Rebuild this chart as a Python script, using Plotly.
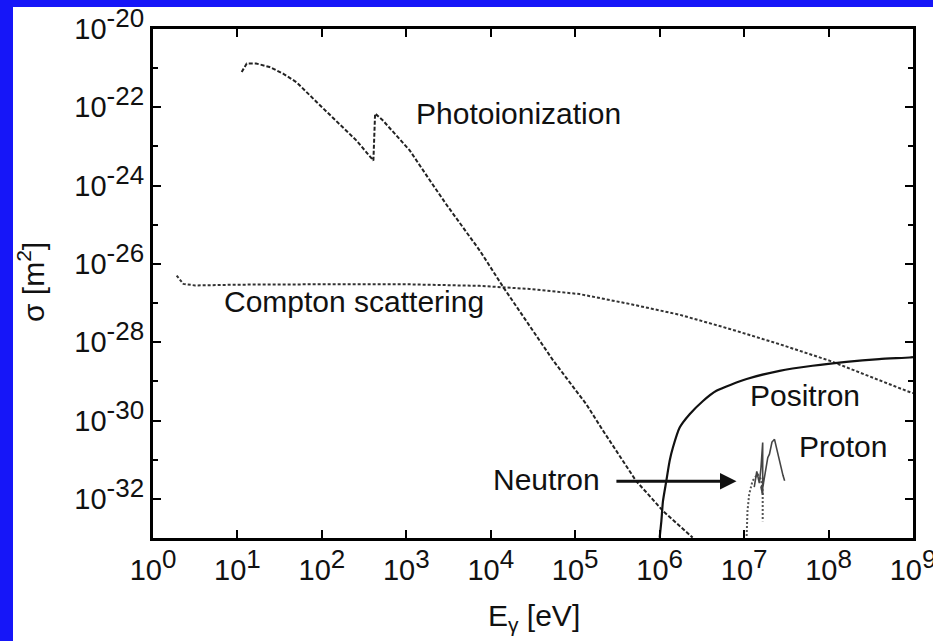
import plotly.graph_objects as go

# ---------------- data (as log10 values) ----------------
photo_logE = [1.05, 1.11, 1.22, 1.38, 1.54, 1.70, 1.94, 2.17, 2.41, 2.61, 2.63, 2.72,
              3.04, 3.28, 3.47, 3.87, 4.15, 4.74, 5.13, 5.33, 5.72, 6.04, 6.39]
photo_logS = [-21.10, -20.88, -20.88, -20.97, -21.14, -21.36, -21.87, -22.34, -22.85, -23.36,
              -22.16, -22.33, -23.10, -23.87, -24.47, -25.66, -26.60, -28.47, -29.58, -30.26,
              -31.54, -32.31, -32.99]

compton_logE = [0.28, 0.36, 0.50, 1.0, 2.0, 3.0, 3.87, 4.46, 5.05, 5.64, 6.24, 6.83,
                7.42, 8.01, 8.92, 9.0]
compton_logS = [-26.30, -26.51, -26.55, -26.53, -26.52, -26.52, -26.56, -26.64, -26.77,
                -27.02, -27.30, -27.66, -28.05, -28.47, -29.24, -29.30]

positron_logE = [6.000, 6.020, 6.039, 6.079, 6.118, 6.157, 6.237, 6.355, 6.513, 6.672,
                 7.03, 7.42, 7.81, 8.21, 8.60, 8.96, 9.0]
positron_logS = [-32.99, -32.57, -32.06, -31.54, -31.03, -30.69, -30.18, -29.84, -29.50,
                 -29.24, -28.94, -28.73, -28.60, -28.50, -28.43, -28.39, -28.38]

neutron_logE = [7.03, 7.04, 7.06, 7.10, 7.16, 7.20, 7.22, 7.22]
neutron_logS = [-32.95, -32.31, -31.88, -31.54, -31.37, -31.50, -31.80, -32.57]

proton_logE = [7.12, 7.15, 7.18, 7.20, 7.22, 7.22, 7.20, 7.23, 7.21, 7.24, 7.25, 7.28,
               7.30, 7.33, 7.36, 7.38, 7.40, 7.42, 7.44, 7.46, 7.48]
proton_logS = [-31.70, -31.30, -31.60, -31.20, -30.56, -31.90, -31.70, -31.60, -31.85,
               -31.50, -31.30, -30.95, -30.86, -30.55, -30.48, -30.68, -30.85, -31.05,
               -31.20, -31.40, -31.54]

x_tickvals = [1e0, 1e1, 1e2, 1e3, 1e4, 1e5, 1e6, 1e7, 1e8, 1e9]
x_exponents = ["0", "1", "2", "3", "4", "5", "6", "7", "8", "9"]
y_tickvals = [1e-20, 1e-22, 1e-24, 1e-26, 1e-28, 1e-30, 1e-32]
y_exponents = ["-20", "-22", "-24", "-26", "-28", "-30", "-32"]
y_minor = [1e-21, 1e-23, 1e-25, 1e-27, 1e-29, 1e-31]


def pow10(vals):
    return [10 ** v for v in vals]


def power_label(exp):
    return "10<sup><span style='font-size:26px'>" + exp + "</span></sup>"


FONT = "Liberation Sans, Arial, Helvetica, sans-serif"
INK = "#111111"

fig = go.Figure()
fig.add_trace(go.Scatter(x=pow10(compton_logE), y=pow10(compton_logS), mode="lines",
                         line=dict(color="#333333", width=2, dash="3px,2px")))
fig.add_trace(go.Scatter(x=pow10(photo_logE), y=pow10(photo_logS), mode="lines",
                         line=dict(color="#222222", width=2, dash="4px,2px")))
fig.add_trace(go.Scatter(x=pow10(positron_logE), y=pow10(positron_logS), mode="lines",
                         line=dict(color="#111111", width=2.2, shape="spline", smoothing=0.6)))
fig.add_trace(go.Scatter(x=pow10(neutron_logE), y=pow10(neutron_logS), mode="lines",
                         line=dict(color="#555555", width=2, dash="2px,2px")))
fig.add_trace(go.Scatter(x=pow10(proton_logE), y=pow10(proton_logS), mode="lines",
                         line=dict(color="#444444", width=1.6)))


# paper coordinate helpers for decoration (plot area: x 153..913, y 29..538)
def px(xp):
    return (xp - 153) / 760.0


def py(yp):
    return (538 - yp) / 509.0


blue = "#1616f8"
shapes = [
    dict(type="rect", xref="paper", yref="paper", x0=px(-5), x1=px(13), y0=py(650), y1=py(-5),
         fillcolor=blue, line=dict(width=0), layer="above"),
    dict(type="rect", xref="paper", yref="paper", x0=px(-5), x1=px(940), y0=py(7), y1=py(-5),
         fillcolor=blue, line=dict(width=0), layer="above"),
]

ann_font = dict(family=FONT, size=30, color=INK)
annotations = [
    dict(text="Photoionization", x=4.33, y=-22.16, xref="x", yref="y", showarrow=False, font=ann_font),
    dict(text="Compton scattering", x=2.38, y=-26.96, xref="x", yref="y", showarrow=False, font=ann_font),
    dict(text="Positron", x=7.72, y=-29.37, xref="x", yref="y", showarrow=False, font=ann_font),
    dict(text="Proton", x=8.17, y=-30.67, xref="x", yref="y", showarrow=False, font=ann_font),
    dict(text="Neutron", x=4.66, y=-31.51, xref="x", yref="y", showarrow=False, font=ann_font),
    dict(text="", x=6.91, y=-31.55, ax=5.47, ay=-31.55, xref="x", yref="y", axref="x", ayref="y",
         showarrow=True, arrowhead=2, arrowsize=1.1, arrowwidth=3, arrowcolor=INK),
    dict(text="E<sub>γ</sub> [eV]", x=px(534), y=py(617), xref="paper", yref="paper",
         showarrow=False, font=ann_font, xanchor="center", yanchor="middle"),
    dict(text="σ [m<sup>2</sup>]", x=px(31), y=py(282), xref="paper", yref="paper",
         showarrow=False, font=ann_font, textangle=-90, xanchor="center", yanchor="middle"),
]

axis_common = dict(showline=True, linewidth=3, linecolor="#000000", mirror="ticks",
                   ticks="inside", tickwidth=2, tickcolor="#000000", showgrid=False,
                   zeroline=False, ticklabeloverflow="allow", automargin=False,
                   tickfont=dict(family=FONT, size=29, color=INK))

fig.update_layout(
    width=933, height=641,
    margin=dict(l=153, r=20, t=29, b=103),
    paper_bgcolor="white", plot_bgcolor="white",
    showlegend=False,
    shapes=shapes,
    annotations=annotations,
    xaxis=dict(type="log", range=[0, 9], tickmode="array", tickvals=x_tickvals,
               ticktext=[power_label(e) for e in x_exponents], ticklen=8,
               ticklabelstandoff=4, **axis_common),
    yaxis=dict(type="log", range=[-33, -20], tickmode="array", tickvals=y_tickvals,
               ticktext=[power_label(e) for e in y_exponents], ticklen=8,
               minor=dict(tickmode="array", tickvals=y_minor, ticks="inside", ticklen=5,
                          tickwidth=2, tickcolor="#000000"),
               **axis_common),
)

fig.write_html("out.html")
